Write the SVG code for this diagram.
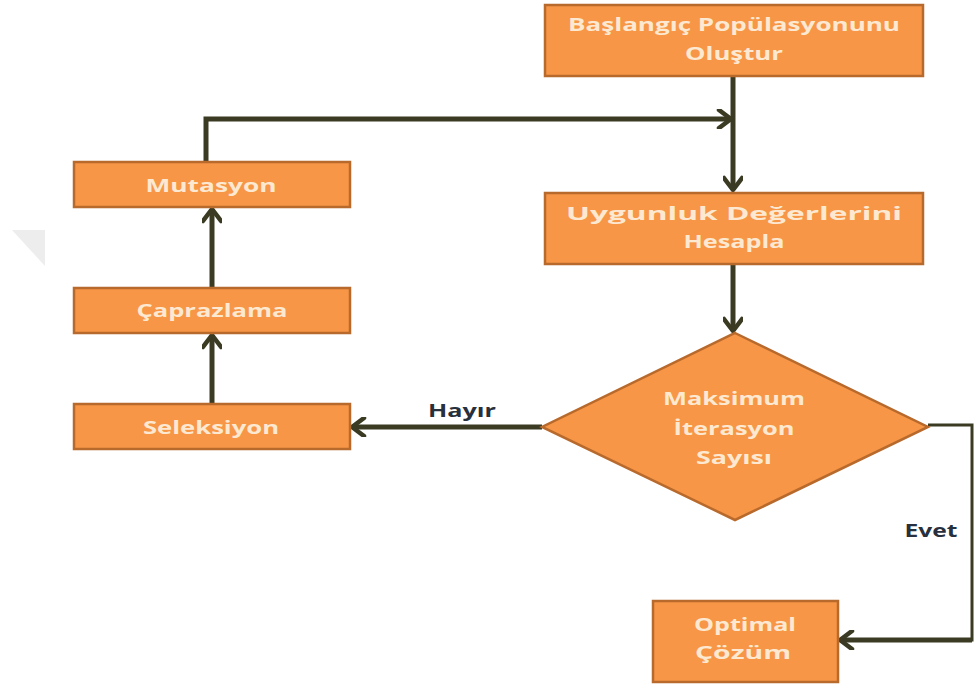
<svg xmlns="http://www.w3.org/2000/svg" width="977" height="689" viewBox="0 0 977 689">
  <style>
    .box { fill: #f79646; stroke: #b8692c; stroke-width: 2.5; }
    .lbl { fill: #fde9d2; font-family: "Open Sans", "Liberation Sans", sans-serif; font-weight: bold; font-size: 18px; text-anchor: middle; }
    .edge { fill: none; stroke: #3b3a22; stroke-width: 5; }
    .thin { fill: none; stroke: #3b3a22; stroke-width: 3; }
    .tag { fill: #27303c; font-family: "Open Sans", "Liberation Sans", sans-serif; font-weight: bold; font-size: 17px; text-anchor: middle; }
  </style>
  <defs>
    <marker id="arrow" viewBox="0 0 20 20" refX="17" refY="10" markerWidth="20" markerHeight="20" markerUnits="userSpaceOnUse" orient="auto">
      <polyline points="5,1 17,10 5,19" fill="none" stroke="#3b3a22" stroke-width="4.5" stroke-linecap="round" stroke-linejoin="round"/>
    </marker>
  </defs>
  <rect width="977" height="689" fill="#ffffff"/>
  <!-- faint corner mark -->
  <polygon points="12,230 45,230 45,266" fill="#ededed"/>

  <g id="connectors">
    <path class="edge" d="M733,76 V190" marker-end="url(#arrow)"/>
    <path class="edge" d="M206,162 V119 H731" marker-end="url(#arrow)"/>
    <path class="edge" d="M733,264 V331" marker-end="url(#arrow)"/>
    <path class="edge" d="M542,427 H352" marker-end="url(#arrow)"/>
    <path class="edge" d="M212,404 V335" marker-end="url(#arrow)"/>
    <path class="edge" d="M212,288 V209" marker-end="url(#arrow)"/>
    <path class="thin" d="M928,425 H972 V640 H842"/>
    <path class="edge" d="M972,640 H840" marker-end="url(#arrow)"/>
    <text class="tag" x="462" y="417" textLength="68" lengthAdjust="spacingAndGlyphs">Hayır</text>
    <text class="tag" x="931" y="537" textLength="53" lengthAdjust="spacingAndGlyphs">Evet</text>
  </g>

  <g id="start">
    <rect class="box" x="545" y="5" width="378" height="71"/>
    <text class="lbl" x="734" y="31" textLength="332" lengthAdjust="spacingAndGlyphs">Başlangıç Popülasyonunu</text>
    <text class="lbl" x="734" y="60" textLength="98" lengthAdjust="spacingAndGlyphs">Oluştur</text>
  </g>
  <g id="fitness">
    <rect class="box" x="545" y="193" width="378" height="71"/>
    <text class="lbl" x="734" y="220" textLength="336" lengthAdjust="spacingAndGlyphs">Uygunluk Değerlerini</text>
    <text class="lbl" x="734" y="248" textLength="101" lengthAdjust="spacingAndGlyphs">Hesapla</text>
  </g>
  <g id="mutation">
    <rect class="box" x="74" y="162" width="276" height="45"/>
    <text class="lbl" x="211" y="192" textLength="131" lengthAdjust="spacingAndGlyphs">Mutasyon</text>
  </g>
  <g id="crossover">
    <rect class="box" x="74" y="288" width="276" height="45"/>
    <text class="lbl" x="212" y="317" textLength="151" lengthAdjust="spacingAndGlyphs">Çaprazlama</text>
  </g>
  <g id="selection">
    <rect class="box" x="74" y="404" width="276" height="45"/>
    <text class="lbl" x="211" y="434" textLength="136" lengthAdjust="spacingAndGlyphs">Seleksiyon</text>
  </g>
  <g id="decision">
    <polygon class="box" points="735,333 928,427 735,520 542,427"/>
    <text class="lbl" x="734" y="405" textLength="142" lengthAdjust="spacingAndGlyphs">Maksimum</text>
    <text class="lbl" x="734" y="435" textLength="121" lengthAdjust="spacingAndGlyphs">İterasyon</text>
    <text class="lbl" x="734" y="464" textLength="76" lengthAdjust="spacingAndGlyphs">Sayısı</text>
  </g>
  <g id="optimal">
    <rect class="box" x="653" y="601" width="185" height="81"/>
    <text class="lbl" x="745" y="631" textLength="102" lengthAdjust="spacingAndGlyphs">Optimal</text>
    <text class="lbl" x="743" y="659" textLength="96" lengthAdjust="spacingAndGlyphs">Çözüm</text>
  </g>
</svg>
